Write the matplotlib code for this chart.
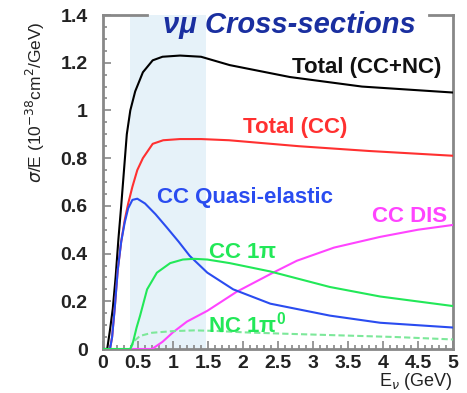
import matplotlib
matplotlib.use("Agg")
import matplotlib.pyplot as plt
from matplotlib.ticker import MultipleLocator

# ---- data ----
tot_x = [0, 0.06, 0.10, 0.14, 0.18, 0.22, 0.26, 0.30, 0.34, 0.39, 0.46, 0.57, 0.71, 0.85, 1.1, 1.4, 1.81, 2.67, 3.7, 5.0]
tot_y = [0, 0, 0.08, 0.17, 0.30, 0.46, 0.60, 0.75, 0.90, 1.00, 1.08, 1.16, 1.21, 1.225, 1.23, 1.225, 1.19, 1.14, 1.10, 1.075]

cc_x = [0, 0.10, 0.13, 0.17, 0.21, 0.26, 0.31, 0.36, 0.42, 0.49, 0.57, 0.71, 0.86, 1.1, 1.4, 1.8, 2.8, 3.8, 5.0]
cc_y = [0, 0, 0.05, 0.18, 0.33, 0.45, 0.54, 0.61, 0.68, 0.75, 0.80, 0.86, 0.875, 0.88, 0.88, 0.875, 0.85, 0.83, 0.81]

qe_x = [0, 0.10, 0.13, 0.17, 0.21, 0.26, 0.31, 0.36, 0.42, 0.49, 0.60, 0.75, 0.91, 1.08, 1.24, 1.49, 1.86, 2.39, 3.24, 3.96, 5.0]
qe_y = [0, 0, 0.05, 0.18, 0.33, 0.45, 0.53, 0.59, 0.625, 0.63, 0.61, 0.565, 0.51, 0.45, 0.39, 0.32, 0.25, 0.19, 0.14, 0.11, 0.09]

pi_x = [0, 0.39, 0.43, 0.48, 0.53, 0.63, 0.77, 0.96, 1.14, 1.30, 1.49, 1.81, 2.39, 3.24, 3.96, 5.0]
pi_y = [0, 0, 0.03, 0.09, 0.14, 0.25, 0.32, 0.36, 0.375, 0.378, 0.375, 0.36, 0.325, 0.26, 0.22, 0.18]

nc_x = [0.39, 0.45, 0.53, 0.70, 1.0, 1.3, 1.6, 2.0, 2.6, 3.4, 4.2, 5.0]
nc_y = [0, 0.035, 0.055, 0.068, 0.075, 0.078, 0.076, 0.07, 0.064, 0.057, 0.05, 0.04]

dis_x = [0.39, 0.70, 0.85, 1.0, 1.2, 1.49, 1.91, 2.43, 2.77, 3.3, 3.96, 4.5, 5.0]
dis_y = [0, 0, 0.03, 0.07, 0.115, 0.16, 0.24, 0.32, 0.37, 0.425, 0.47, 0.50, 0.52]

band = (0.39, 1.47)

title = "νμ Cross-sections"
labels = ["Total (CC+NC)", "Total (CC)", "CC Quasi-elastic", "CC DIS", r"CC 1$\pi$", r"NC 1$\pi^0$"]
xticks = [0, 0.5, 1, 1.5, 2, 2.5, 3, 3.5, 4, 4.5, 5]
yticks = [0, 0.2, 0.4, 0.6, 0.8, 1, 1.2, 1.4]

plt.rcParams['font.family'] = ['Liberation Sans', 'DejaVu Sans']
plt.rcParams['mathtext.fontset'] = 'custom'
plt.rcParams['mathtext.rm'] = 'Liberation Sans:bold'
plt.rcParams['mathtext.it'] = 'Liberation Sans:bold'
plt.rcParams['mathtext.bf'] = 'Liberation Sans:bold'

fig = plt.figure(figsize=(4.67, 3.93), dpi=100)
ax = fig.add_axes([103/467, 1-349/393, 350/467, 334/393])

ax.axvspan(band[0], band[1], color='#e6f2f9', zorder=0, lw=0)

ax.plot(tot_x, tot_y, color='black', lw=1.5, zorder=3)
ax.plot(cc_x, cc_y, color='#ff3030', lw=1.5, zorder=3)
ax.plot(qe_x, qe_y, color='#2a4cf0', lw=1.5, zorder=4)
ax.plot(dis_x, dis_y, color='#ff44ff', lw=1.5, zorder=3)
ax.plot(nc_x, nc_y, color='#7de89a', lw=1.5, ls=(0, (3, 1.5)), zorder=3)
ax.plot(pi_x, pi_y, color='#22e858', lw=1.5, zorder=5)

ax.set_xlim(0, 5)
ax.set_ylim(0, 1.4)
ax.set_xticks(xticks)
ax.set_xticklabels([f"{v:g}" for v in xticks])
ax.set_yticks(yticks)
ax.set_yticklabels([f"{v:g}" for v in yticks])
ax.xaxis.set_minor_locator(MultipleLocator(0.1))
ax.yaxis.set_minor_locator(MultipleLocator(0.05))
ax.tick_params(which='both', direction='in', color='#888888', width=1.2)
ax.tick_params(which='major', length=6, labelsize=14)
ax.tick_params(axis='y', which='major', pad=11)
ax.tick_params(axis='x', which='major', pad=4)
ax.tick_params(which='minor', length=3)
for lab in ax.get_xticklabels() + ax.get_yticklabels():
    lab.set_fontweight('bold')
    lab.set_color('#222222')

for s in ['left', 'bottom', 'right']:
    ax.spines[s].set_color('#888888')
    ax.spines[s].set_linewidth(2)
ax.spines['top'].set_visible(False)
ax.plot([0, 0.126], [1, 1], transform=ax.transAxes, color='#888888', lw=2, clip_on=False, zorder=6)
ax.plot([0.931, 1], [1, 1], transform=ax.transAxes, color='#888888', lw=2, clip_on=False, zorder=6)

def px(xp, yp):
    return (xp/467, 1 - yp/393)

fig.text(*px(289, 25), title, fontsize=21, fontweight='bold', style='italic',
         color='#1a2fa0', ha='center', va='center')

kw = dict(fontsize=16, fontweight='bold', va='center', ha='left')
fig.text(*px(292, 67), labels[0], color='#111111', **kw)
fig.text(*px(243, 128), labels[1], color='#ff3030', **kw)
fig.text(*px(157, 198), labels[2], color='#2a4cf0', **kw)
fig.text(*px(372, 217), labels[3], color='#ff44ff', **kw)
fig.text(*px(208, 252), labels[4], color='#22e858', **kw)
fig.text(*px(208, 325), labels[5], color='#22e858', **kw)

fig.text(35/467, 1-102/393, r"$\sigma$/E (10$^{-38}$cm$^2$/GeV)", rotation=90,
         ha='center', va='center', fontsize=12.5, color='#222222',
         math_fontfamily='dejavusans')
fig.text(453/467, 1-382/393, r"E$_\nu$ (GeV)", ha='right', va='center', fontsize=13, color='#222222',
         math_fontfamily='dejavusans')

fig.savefig("out.png", dpi=100)
